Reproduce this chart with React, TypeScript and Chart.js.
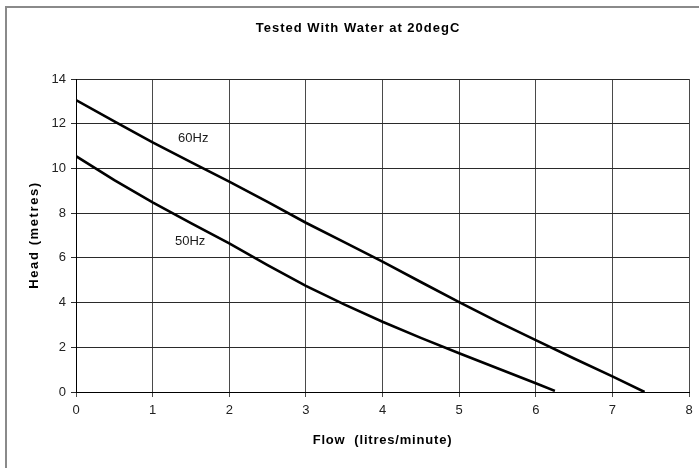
import React, { useEffect, useRef } from "react";
import { Chart, registerables } from "chart.js";

Chart.register(...registerables);

const chartTitle = "Tested With Water at 20degC";
const xAxisTitle = "Flow  (litres/minute)";
const yAxisTitle = "Head (metres)";

const flow60 = [0, 0.5, 1, 1.5, 2, 2.5, 3, 3.5, 4, 4.5, 5, 5.5, 6, 6.5, 7, 7.42];
const head60 = [13.06, 12.1, 11.17, 10.28, 9.41, 8.5, 7.57, 6.7, 5.83, 4.92, 4.02, 3.15, 2.32, 1.5, 0.7, 0];

const flow50 = [0, 0.5, 1, 1.5, 2, 2.5, 3, 3.5, 4, 4.5, 5, 5.5, 6, 6.25];
const head50 = [10.55, 9.48, 8.48, 7.55, 6.65, 5.68, 4.75, 3.92, 3.14, 2.42, 1.73, 1.06, 0.39, 0.05];

const seriesLabels = ["60Hz", "50Hz"];
const labelPos = [
  { x: 1.53, y: 11.36 },
  { x: 1.49, y: 6.73 },
];

const xMin = 0, xMax = 8, xStep = 1;
const yMin = 0, yMax = 14, yStep = 2;

const FONT = "'Liberation Sans', Arial, sans-serif";

const decorPlugin = {
  id: "decor",
  beforeDraw(chart: any) {
    const ctx = chart.ctx;
    ctx.save();
    ctx.fillStyle = "#ffffff";
    ctx.fillRect(0, 0, chart.width, chart.height);
    ctx.strokeStyle = "#8a8a8a";
    ctx.lineWidth = 2;
    ctx.strokeRect(6, 7, chart.width + 20, chart.height + 20);
    ctx.restore();
  },
  afterDraw(chart: any) {
    const ctx = chart.ctx;
    const xs = chart.scales.x;
    const ys = chart.scales.y;
    const area = chart.chartArea;
    ctx.save();
    ctx.fillStyle = "#000000";
    ctx.textAlign = "center";
    ctx.textBaseline = "middle";
    ctx.font = `bold 13px ${FONT}`;
    (ctx as any).letterSpacing = "1px";
    ctx.fillText(chartTitle, 358, 28);
    (ctx as any).letterSpacing = "0.8px";
    ctx.fillText(xAxisTitle, (area.left + area.right) / 2, 440);
    ctx.save();
    ctx.translate(34, 235);
    ctx.rotate(-Math.PI / 2);
    (ctx as any).letterSpacing = "1.6px";
    ctx.fillText(yAxisTitle, 0, 0);
    ctx.restore();
    (ctx as any).letterSpacing = "0px";
    ctx.font = `13px ${FONT}`;
    ctx.fillStyle = "#1a1a1a";
    seriesLabels.forEach((t, i) => {
      ctx.fillText(t, xs.getPixelForValue(labelPos[i].x), ys.getPixelForValue(labelPos[i].y));
    });
    ctx.restore();
  },
};

export default function App() {
  const ref = useRef<HTMLCanvasElement | null>(null);
  useEffect(() => {
    document.body.style.margin = "0";
    const canvas = ref.current!;
    const chart = new Chart(canvas, {
      type: "line",
      data: {
        datasets: [
          {
            label: seriesLabels[0],
            data: flow60.map((f, i) => ({ x: f, y: head60[i] })),
            borderColor: "#000000",
            borderWidth: 2.6,
            pointRadius: 0,
            tension: 0,
            fill: false,
          },
          {
            label: seriesLabels[1],
            data: flow50.map((f, i) => ({ x: f, y: head50[i] })),
            borderColor: "#000000",
            borderWidth: 2.6,
            pointRadius: 0,
            tension: 0,
            fill: false,
          },
        ],
      },
      options: {
        responsive: false,
        animation: false,
        layout: { padding: { top: 79, right: 10, left: 0, bottom: 0 } },
        plugins: {
          legend: { display: false },
          tooltip: { enabled: false },
          title: { display: false },
        },
        scales: {
          x: {
            type: "linear",
            min: xMin,
            max: xMax,
            afterFit(scale: any) {
              scale.height = 76;
            },
            ticks: {
              stepSize: xStep,
              padding: 6,
              color: "#222222",
              font: { family: FONT, size: 13 },
            },
            grid: {
              color: "#4a4a4a",
              lineWidth: 1,
              tickLength: 5,
              drawTicks: true,
            },
            border: { color: "#000000", width: 1 },
          },
          y: {
            type: "linear",
            min: yMin,
            max: yMax,
            afterFit(scale: any) {
              scale.width = 76;
            },
            ticks: {
              stepSize: yStep,
              padding: 5,
              color: "#222222",
              font: { family: FONT, size: 13 },
            },
            grid: {
              color: "#2a2a2a",
              lineWidth: 1,
              tickLength: 5,
            },
            border: { color: "#000000", width: 1 },
          },
        },
      },
      plugins: [decorPlugin],
    });
    return () => chart.destroy();
  }, []);
  return (
    <div style={{ width: 699, height: 468 }}>
      <canvas ref={ref} width={699} height={468} />
    </div>
  );
}
